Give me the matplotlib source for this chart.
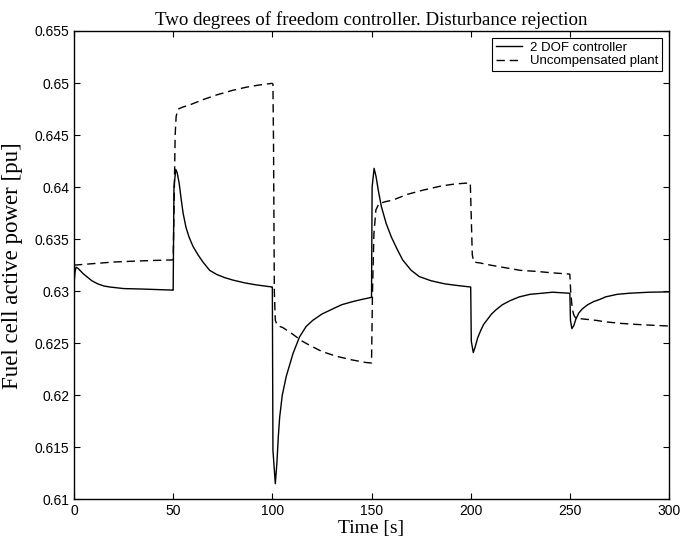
import matplotlib
matplotlib.use("Agg")
import matplotlib.pyplot as plt
from matplotlib.ticker import FuncFormatter

# Time [s] and fuel cell active power [pu] for the 2 DOF controller
t_ctrl = [0.0, 0.5, 1.0, 2.0, 3.0, 4.5, 6.4, 9.0, 12.0, 15.0, 18.0, 25.0, 35.0, 49.9,
          50.0, 50.4, 51.3, 52.0, 53.0, 54.0, 55.0, 56.5, 58.0, 60.0, 62.5, 65.0,
          68.4, 72.0, 76.0, 80.2, 86.0, 92.0, 99.9,
          100.0, 100.3, 101.5, 102.3, 103.0, 103.7, 105.0, 107.0, 110.4, 113.7, 117.0,
          120.4, 125.0, 130.5, 135.0, 140.6, 145.0, 149.9,
          150.0, 150.3, 151.3, 152.3, 153.5, 155.0, 157.4, 160.0, 163.0, 165.7, 170.0,
          174.1, 180.0, 187.0, 193.0, 199.9,
          200.0, 200.3, 201.3, 202.2, 203.5, 205.0, 206.5, 208.5, 210.5, 212.7, 216.0,
          220.0, 224.5, 230.0, 236.0, 241.2, 249.9,
          250.0, 250.3, 251.0, 252.0, 253.0, 254.5, 256.3, 259.0, 262.0, 265.0, 268.0,
          274.0, 280.0, 290.0, 300.0]
p_ctrl = [0.6307, 0.6318, 0.6323, 0.6322, 0.6320, 0.6317, 0.6314, 0.6310, 0.6307, 0.6305,
          0.6304, 0.63025, 0.6302, 0.6301,
          0.6301, 0.6400, 0.6417, 0.6414, 0.6404, 0.6389, 0.6375, 0.6361, 0.6352, 0.6343,
          0.6335, 0.6328, 0.6320, 0.6316, 0.6313, 0.63106, 0.6308, 0.6306, 0.6304,
          0.6304, 0.6147, 0.6115, 0.6135, 0.6160, 0.6179, 0.6200, 0.6218, 0.6240, 0.6256,
          0.6266, 0.6272, 0.6278, 0.6283, 0.6287, 0.6290, 0.6292, 0.6294,
          0.6294, 0.6400, 0.6418, 0.6410, 0.6396, 0.6381, 0.6365, 0.6352, 0.6340, 0.6330,
          0.6320, 0.6314, 0.6310, 0.6307, 0.63055, 0.6304,
          0.6304, 0.6252, 0.6241, 0.6246, 0.6255, 0.6262, 0.6268, 0.6273, 0.6278, 0.6282,
          0.6287, 0.6291, 0.62945, 0.6297, 0.6298, 0.6299, 0.6298,
          0.6298, 0.6272, 0.6264, 0.6267, 0.6273, 0.6279, 0.6283, 0.6287, 0.6290, 0.6292,
          0.62945, 0.6297, 0.6298, 0.6299, 0.62993]

# Time [s] and fuel cell active power [pu] for the uncompensated plant
t_plant = [0.0, 10.0, 20.0, 30.0, 40.0, 49.9,
           50.0, 50.6, 51.0, 51.5, 52.5, 55.0, 58.4, 65.0, 71.8, 80.0, 86.9, 93.0, 99.8,
           100.3, 100.6, 101.0, 101.5, 102.5, 105.3, 110.0, 115.0, 118.8, 125.0, 132.2,
           140.0, 147.3, 149.8,
           150.0, 150.5, 151.2, 152.2, 153.7, 157.0, 160.7, 168.0, 175.8, 185.0, 192.0,
           199.3,
           199.8, 200.3, 200.8, 201.5, 205.0, 210.0, 216.0, 225.0, 233.0, 241.2, 249.8,
           250.0, 250.4, 251.2, 252.0, 253.0, 258.0, 263.0, 268.0, 276.0, 284.0, 292.0,
           300.0]
p_plant = [0.6325, 0.63265, 0.6328, 0.63288, 0.63295, 0.6330,
           0.6330, 0.6400, 0.6450, 0.6468, 0.6475, 0.6477, 0.6479, 0.6484, 0.64885, 0.6493,
           0.6496, 0.6498, 0.64997,
           0.6499, 0.6440, 0.6300, 0.6272, 0.6267, 0.6265, 0.6259, 0.6252, 0.6248, 0.6242,
           0.62375, 0.6234, 0.62314, 0.6231,
           0.6231, 0.6300, 0.6355, 0.6378, 0.6384, 0.6386, 0.63875, 0.6393, 0.6397, 0.6401,
           0.6403, 0.6404,
           0.6404, 0.6370, 0.6335, 0.6328, 0.6327, 0.6325, 0.6323, 0.6320, 0.6319, 0.63176,
           0.63164,
           0.6316, 0.6300, 0.6283, 0.6277, 0.6274, 0.6273, 0.6272, 0.62705, 0.6269, 0.6268,
           0.62672, 0.62665]

x_ticks = [0, 50, 100, 150, 200, 250, 300]
y_ticks = [0.61, 0.615, 0.62, 0.625, 0.63, 0.635, 0.64, 0.645, 0.65, 0.655]

serif = ["Liberation Serif", "DejaVu Serif"]
sans = ["Liberation Sans", "DejaVu Sans"]

fig = plt.figure(figsize=(6.82, 5.41), dpi=100)
ax = fig.add_axes([0.1085, 0.0771, 0.8725, 0.8656])

ax.plot(t_ctrl, p_ctrl, color="black", lw=1.0, label="2 DOF controller")
ax.plot(t_plant, p_plant, color="black", lw=1.0, dashes=(6, 3.5),
        label="Uncompensated plant")

ax.set_xlim(0, 300)
ax.set_ylim(0.61, 0.655)
ax.set_xticks(x_ticks)
ax.set_yticks(y_ticks)
ax.yaxis.set_major_formatter(FuncFormatter(lambda v, _: f"{v:g}"))
ax.tick_params(direction="in", length=4, width=0.8, top=True, right=True,
               labelsize=10)
ax.tick_params(axis="x", pad=3.5)
ax.tick_params(axis="y", pad=3.5)
for lab in ax.get_xticklabels() + ax.get_yticklabels():
    lab.set_fontfamily(sans)
for sp in ax.spines.values():
    sp.set_linewidth(1.0)

ax.set_title("Two degrees of freedom controller. Disturbance rejection",
             fontfamily=serif, fontsize=13.6, pad=4)
ax.set_xlabel("Time [s]", fontfamily=serif, fontsize=14)
ax.set_ylabel("Fuel cell active power [pu]", fontfamily=serif, fontsize=16.5)
# label anchor positions in axes coordinates
ax.xaxis.set_label_coords(0.5, -0.044)
ax.yaxis.set_label_coords(-0.086, 0.5)

leg = ax.legend(loc="upper right", prop={"family": sans, "size": 9.5},
                fancybox=False, framealpha=1, edgecolor="black",
                borderaxespad=0.5, handlelength=2.0, borderpad=0.3,
                labelspacing=0.1, handletextpad=0.6)
leg.get_frame().set_linewidth(0.8)

fig.savefig("out.png", dpi=100)
